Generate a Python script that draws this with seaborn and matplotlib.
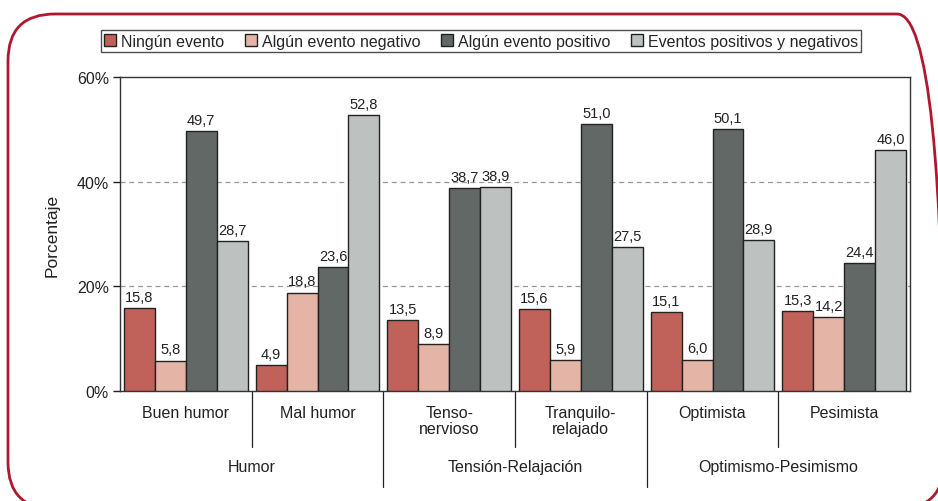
import pandas as pd
import numpy as np
import matplotlib
matplotlib.use("Agg")
import matplotlib.pyplot as plt
import seaborn as sns
from matplotlib.patches import FancyBboxPatch

categories = ["Buen humor", "Mal humor", "Tenso-\nnervioso", "Tranquilo-\nrelajado", "Optimista", "Pesimista"]
groups = ["Humor", "Tensión-Relajación", "Optimismo-Pesimismo"]
series = ["Ningún evento", "Algún evento negativo", "Algún evento positivo", "Eventos positivos y negativos"]

ningun = [15.8, 4.9, 13.5, 15.6, 15.1, 15.3]
negativo = [5.8, 18.8, 8.9, 5.9, 6.0, 14.2]
positivo = [49.7, 23.6, 38.7, 51.0, 50.1, 24.4]
ambos = [28.7, 52.8, 38.9, 27.5, 28.9, 46.0]

colors = ["#c0625a", "#e4b5a6", "#626866", "#bdc2c1"]

df = pd.DataFrame({
    "categoria": categories * 4,
    "serie": np.repeat(series, len(categories)),
    "valor": ningun + negativo + positivo + ambos,
})

sns.set_style("white")
plt.rcParams["font.family"] = ["Liberation Sans", "DejaVu Sans"]

fig = plt.figure(figsize=(9.38, 5.02), dpi=100)
ax = fig.add_axes([120 / 938, 110 / 502, 790 / 938, 314 / 502])

sns.barplot(data=df, x="categoria", y="valor", hue="serie", order=categories,
            hue_order=series, palette=colors, width=0.94, gap=0,
            edgecolor="#222222", linewidth=1, saturation=1, ax=ax, zorder=3)

for cont in ax.containers:
    ax.bar_label(cont, labels=[f"{v:.1f}".replace(".", ",") for v in cont.datavalues],
                 padding=3, fontsize=10.5, color="#222222")

ax.set_ylim(0, 60)
ax.set_xlim(-0.5, 5.5)
ax.set_yticks([0, 20, 40, 60])
ax.set_yticklabels(["0%", "20%", "40%", "60%"], fontsize=11.5, color="#222222")
ax.tick_params(axis="y", direction="out", length=5, width=1, color="#222222", left=True, pad=3)
ax.tick_params(axis="x", length=0, pad=10, labelsize=11.5, labelcolor="#222222")
ax.set_xticks(range(len(categories)))
ax.set_xticklabels(categories, va="top", linespacing=1.1)
for y in [20, 40]:
    ax.axhline(y, color="#999999", linestyle=(0, (4, 3)), linewidth=0.9, zorder=1)
for s in ax.spines.values():
    s.set_color("#333333")
    s.set_linewidth(1)
ax.set_xlabel("")
ax.set_ylabel("Porcentaje", fontsize=12.5, color="#222222", labelpad=12)

# separators below the axis
trans = ax.get_xaxis_transform()
for i, x in enumerate([0.5, 1.5, 2.5, 3.5, 4.5]):
    low = -0.306 if i in (1, 3) else -0.178
    ax.plot([x, x], [0, low], transform=trans, color="#222222", lw=0.9, clip_on=False)
for i, g in enumerate(groups):
    ax.text(2 * i + 0.5, -0.24, g, transform=trans, ha="center", va="center",
            fontsize=11.5, color="#222222")

ax.get_legend().remove()
handles = [plt.Rectangle((0, 0), 1, 1, facecolor=c, edgecolor="#222222", lw=1) for c in colors]
leg = fig.legend(handles, series, loc="center", bbox_to_anchor=(481 / 938, 460 / 502), ncol=4,
                 frameon=True, fancybox=False, edgecolor="#222222", fontsize=11.5,
                 handlelength=0.75, handleheight=0.75, handletextpad=0.3, columnspacing=1.3,
                 borderpad=0.2, borderaxespad=0)
leg.get_frame().set_linewidth(1)

frame = FancyBboxPatch((8 / 938, -8 / 502), 936 / 938, 495 / 502,
                       boxstyle="round,pad=0,rounding_size=0.05", transform=fig.transFigure,
                       facecolor="none", edgecolor="#b0182f", linewidth=2, mutation_aspect=938 / 502)
fig.patches.append(frame)

fig.savefig("out.png", dpi=100)
